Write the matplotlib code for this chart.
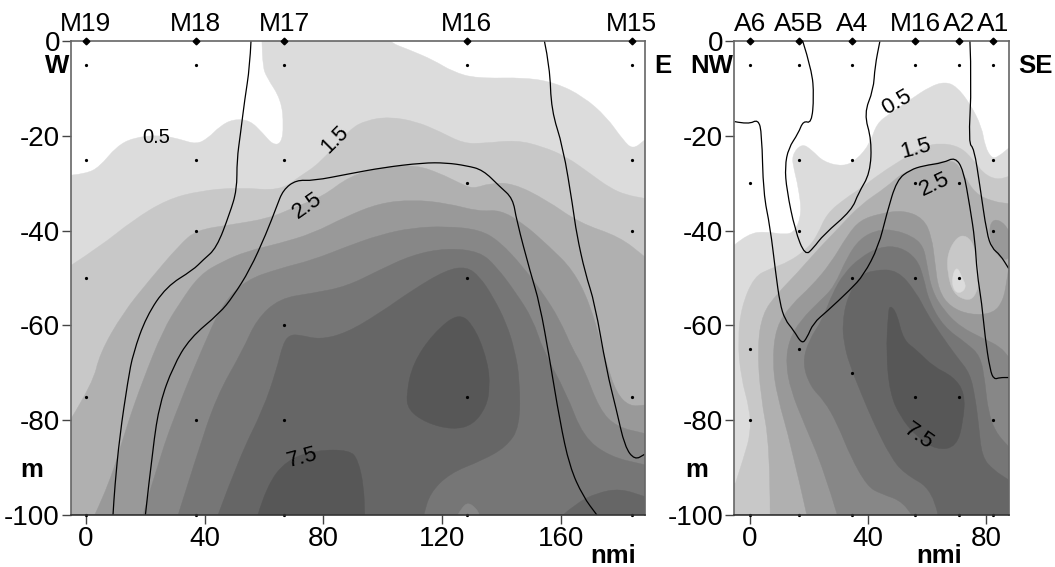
import matplotlib
matplotlib.use('Agg')
import matplotlib.pyplot as plt
import numpy as np
from matplotlib.patches import PathPatch
from matplotlib.path import Path

plt.rcParams['font.family'] = ['Liberation Sans', 'DejaVu Sans']
plt.rcParams['axes.unicode_minus'] = False

# shade of each contour level
c05, c15, c25, c35 = '#dcdcdc', '#c8c8c8', '#b0b0b0', '#999999'
c45, c55, c65, c75 = '#878787', '#767676', '#666666', '#575757'

# left section, boundaries read at 3 px/nmi (left_fix below brings them to the axis)
left_fix = 1.01
L05 = [(-4.8, -28.3), (0.2, -28), (4.7, -26.5), (10.2, -22.3), (15.8, -20.4), (24.7, -19.8), (31.3, -20.7),
       (36.9, -21.8), (40.8, -20.5), (44.7, -18), (49.1, -16.5), (54.7, -16.7), (59.1, -19.5), (62.4, -21.9),
       (65.2, -21.6), (66, -18), (65.2, -12.4), (60.2, -7.5), (59.1, -5.4), (58.7, 0), (58.7, 4), (100.2, 4),
       (100.2, 0), (108, -1.9), (115.8, -4), (122.4, -6.5), (130.2, -7.9), (146.9, -7.7), (156.9, -8.9),
       (165.8, -11.7), (173.6, -16), (179.1, -20.9), (182.4, -22.9), (186.3, -20.9)]
L15 = [(-4.8, -47.3), (4.7, -43.4), (15.8, -37.8), (26.9, -33.5), (38, -31.6), (51.3, -30.9), (64.7, -31.6),
       (71.3, -28.6), (78, -25.8), (88, -18.6), (93.6, -16.7), (101.3, -16), (110.2, -17), (118, -19.1),
       (125.8, -21.6), (132.4, -21.6), (143.6, -20.9), (152.4, -22.3), (160.2, -24.4), (168, -27.9),
       (174.7, -31), (180.2, -32.5), (186.3, -33.2)]
L25 = [(-4.8, -79.6), (2.4, -72.2), (4.7, -65.9), (12.4, -57.4), (21.3, -50.4), (31.3, -43), (36.9, -39.9),
       (48, -38.8), (61.3, -37.4), (70.2, -34.9), (79, -32.8), (88, -28.5), (99.1, -26.5), (110.2, -26.2),
       (118, -27.9), (124.7, -30), (129.1, -31.2), (134.7, -30), (142.4, -30), (153.5, -33.5), (164.6, -38.4),
       (178, -41.3), (186.3, -45.5)]
L35 = [(3, -100), (8, -93.3), (13.6, -81.4), (19.1, -71.5), (25.8, -61), (31.3, -55.3), (38, -49.3),
       (45.7, -46.5), (53.5, -44.4), (64.6, -42.7), (75.7, -40.6), (86.9, -37), (98, -34.2), (109, -33.5),
       (120.2, -34.2), (131.3, -36), (138, -35.6), (145.7, -38.4), (154.6, -43.4), (162.4, -48.3), (168, -55.3),
       (172.4, -65.2), (173.6, -68), (176.9, -74.3), (181.3, -77.1), (186.3, -76.8)]
L45 = [(19.1, -100), (24.7, -87.7), (31.3, -76.4), (39.1, -64.5), (45.7, -55.3), (53.5, -50.4), (64.6, -48),
       (75.7, -46.2), (86.9, -43.4), (98, -40.9), (109, -39.4), (120.2, -39.1), (131.3, -39.8), (138, -42.3),
       (145.7, -47.6), (152.4, -53.2), (158, -58.8), (162.4, -65.2), (165.8, -68.7), (171.3, -77.8),
       (176.9, -81.4), (186.3, -82.8)]
L55 = [(30.8, -100), (36.9, -87.7), (43.6, -75), (52.4, -65.2), (56.9, -58.8), (64.6, -54.3), (75.7, -53.2),
       (86.9, -51.8), (98, -48.3), (109, -45.1), (120.2, -43.7), (131.3, -44.4), (136.9, -47.6), (143.5, -53.2),
       (149.1, -58.8), (152.4, -65.2), (160.2, -74.3), (165.8, -83.5), (174.7, -87.7), (186.3, -89.4)]
L65 = [(44.1, -100), (51.3, -87.7), (59.1, -77.8), (63.6, -69.4), (65.8, -63.8), (68, -62), (71.3, -62),
       (78, -63), (86.9, -61.6), (98, -57.4), (109, -52.5), (120.2, -48.3), (126.9, -47.6), (131.3, -49.7),
       (135.7, -53.9), (140.2, -59.5), (143, -65.2), (144.7, -71.5), (144.7, -81.4), (140.2, -85.6),
       (132.4, -88.4), (121.3, -91.2), (114.7, -95.4), (112.7, -100)]
L65_corner = [(159.1, -100), (163.6, -97.5), (170.2, -95.4), (178, -94.4), (186.3, -96.1)]
L45_bump = [(124, -100), (125.2, -98.6), (127.4, -97.3), (130.2, -98.6), (131.3, -100)]
L75_core = [(124.7, -57.1), (130.2, -61), (134.1, -68), (134.7, -72.9), (133.6, -77.1), (129.1, -81),
            (122.4, -82), (113.6, -80.6), (107.4, -77.8), (106.9, -74.3), (109.1, -68), (115.8, -61.7)]
L75_base = [(57.4, -100), (60.2, -94), (66.9, -88.4), (77, -86.3), (88, -86.3), (90.8, -88.4), (92.7, -94),
            (93, -100)]
left_line_a = [(55.1, 0), (54.7, -5.4), (53, -12.4), (51.6, -19.5), (50.4, -25.1), (50.4, -31.4), (48, -36.4),
               (43.6, -43.7), (39.1, -46.2), (35.8, -48.3), (26.9, -51.8), (20.2, -58.1), (15.8, -65.9),
               (14.1, -71.5), (11.3, -83.5), (9.7, -94), (9.1, -100)]
left_line_b = [(19.9, -100), (22.4, -85.6), (24.7, -76.4), (29.1, -68.7), (34.7, -62.7), (44.7, -57.4),
               (49.1, -53.9), (54.7, -48.3), (60.2, -40.6), (63.6, -35), (65.8, -31.4), (70.2, -29.3),
               (75.8, -29.5), (88, -28), (99.1, -26.7), (112.4, -25.7), (120.2, -25.7), (126.9, -26.3),
               (132.4, -27.2), (138, -30.7), (142.4, -33.2), (143.6, -37.8), (148.3, -49), (151.3, -55.3),
               (154.7, -67.3), (158, -80), (161.3, -89.8), (165.8, -96.1), (170.4, -100)]
left_line_c = [(152.9, 0), (154.7, -5.4), (155.2, -14.6), (159.1, -22.3), (162.4, -35), (163.6, -40.6),
               (166.5, -49), (169.7, -55.3), (173.6, -69.4), (176.9, -77.8), (179.7, -85.6), (183, -88.4),
               (186.3, -87.2)]

# right section boundaries
R05 = [(-5.1, -43), (-0.5, -40.6), (5.7, -40.2), (11.9, -40.9), (15.3, -40.2), (17.6, -36.4), (16.4, -30.7),
       (15, -27.2), (14.2, -24.1), (17.6, -21.6), (21, -23), (24.9, -25.5), (31.6, -26.5), (36.1, -25.1),
       (40.7, -21.6), (42.9, -17.4), (47.4, -15.3), (54.2, -12.4), (60.9, -9.6), (66, -8.6), (69.9, -9.6),
       (74.4, -13.2), (78.4, -18.1), (79.5, -22.3), (81.8, -24.8), (84, -24.4), (87.5, -22.6)]
R15 = [(-4.8, -93.3), (-1.9, -87.7), (0.3, -82.8), (0.1, -77.9), (-3, -70.8), (-4, -63.1), (-2.8, -56.1),
       (1.5, -49.7), (7.1, -48), (13.3, -46.6), (19.5, -43.8), (22.9, -41), (26, -36.4), (32.8, -33),
       (37.3, -31.2), (44, -28), (52, -24.8), (58.7, -22.3), (64.3, -21.5), (71.1, -22.3), (75.6, -25.1),
       (79, -28), (83.5, -29.3), (87.4, -28.6)]
R25 = [(6.9, -100), (6.9, -85.6), (3.7, -75), (2.6, -64.5), (4.3, -57.5), (9.3, -53.3), (16, -49), (23, -44),
       (30, -39.5), (37.3, -34.6), (46.3, -30.8), (52, -27.6), (59.8, -26.2), (68.8, -24.8), (72.2, -28),
       (76.1, -32.2), (82.3, -33.9), (87.4, -34.3)]
R35 = [(19.3, -100), (13.9, -84.9), (9.3, -75), (7.7, -68), (8.8, -60.3), (14.4, -55.4), (20.6, -51.9),
       (27.4, -46.9), (33, -41), (37.3, -37.8), (44, -36.4), (52, -35.7), (58.7, -37.4), (61.5, -41.3),
       (62.6, -46.9), (63.8, -52.6), (67.7, -56.1), (74.5, -57.8), (82.3, -57.5), (85.7, -54.7), (86.9, -50.4),
       (87.4, -48.3)]
R35_spot = [(80.7, -39.9), (82.3, -37.4), (86.3, -38.5), (89, -42), (87.4, -46.9), (82.3, -44.5)]
R45 = [(29.6, -100), (25.1, -90.5), (18.4, -80.7), (13.9, -73.7), (12.2, -68), (13.3, -63.1), (17.2, -58.9),
       (24, -54.7), (28.5, -51.9), (33, -45.5), (37.3, -41.7), (42.9, -39.9), (48.6, -39.8), (55.3, -41.3),
       (58.7, -43.4), (59.8, -46.9), (61.5, -52.6), (65.5, -56.8), (71.1, -60.3), (79, -62.8), (84.6, -64.5),
       (87.4, -66.6)]
R55 = [(54.7, -100), (52.1, -97.2), (44.3, -95.5), (39.8, -94), (34.1, -87.7), (29.6, -80.7), (25.1, -75.8),
       (20.6, -73), (17.8, -68), (20, -63.1), (24.5, -58.9), (27.9, -53.3), (31.9, -49), (37.3, -45.7),
       (44, -43.4), (50.8, -43.4), (56.4, -45.9), (58.7, -49.7), (60.4, -54.7), (65.5, -60.3), (73.3, -63.8),
       (78, -66.5), (79.5, -72), (80.5, -78), (83, -82.5), (87.5, -85.6)]
R65 = [(63.6, -100), (62, -94.7), (52.1, -91.2), (47.6, -87.7), (42, -80.7), (38.1, -75), (33.6, -68),
       (31.9, -63.8), (31.3, -59.6), (33, -54), (37.3, -49.5), (42, -48.3), (50, -48.3), (56.4, -53.2),
       (59.8, -57.4), (64.3, -61.7), (69.9, -66.6), (74.4, -70.1), (76.1, -75), (77.3, -80.6), (78.4, -87.7),
       (82.3, -90.5), (87.5, -92.6)]
R75 = [(47.4, -55.7), (49.7, -57.4), (51.9, -63.1), (56.4, -65.2), (62, -68.7), (68.8, -70.8), (72.7, -74.3),
       (72.2, -80), (69.9, -85.6), (63.2, -86.3), (56.4, -83.5), (50.8, -79.2), (47.4, -74.3), (46.1, -65.9),
       (46.8, -57.4)]
R15_hole = [(66.8, -44.8), (70, -41.3), (73.3, -41), (76.1, -43.4), (77.8, -50.4), (76.1, -54), (73.3, -54.8),
            (68.8, -53.3), (66.8, -49)]
R05_hole = [(68.3, -49.7), (70, -47.5), (71.6, -49.7), (73.3, -51.9), (71.1, -53.3), (68.8, -52.6)]
right_line_a = [(-5.1, -17), (-0.4, -17.6), (2.9, -16.5), (4.1, -19.5), (4.6, -32.1), (6.9, -39.2), (8.8, -49),
                (10.2, -55.3), (11.9, -58.8), (14.8, -61), (17.6, -63.9), (19.3, -62.7), (21.5, -59.5), (26, -57.1),
                (33.9, -52.5), (38.5, -49.4), (43.5, -43.4), (46.3, -36.4), (49.7, -29.3), (54.2, -27.2),
                (58.7, -26.3), (65.4, -25.7), (69.4, -24.5), (72.2, -27.2), (74.4, -35), (76.1, -42), (76.8, -49),
                (78.4, -55.3), (79.5, -62.4), (81.2, -69.4), (82.5, -71.4), (84.5, -71), (87.5, -71)]
right_line_b = [(17.9, 0), (21, -6.1), (21.7, -11.7), (20.9, -17.4), (18.1, -16.8), (16.4, -19.5), (13.1, -22.6),
                (11.9, -26.5), (12.5, -31.4), (15.3, -39.9), (18.7, -45.3), (21.5, -43.7), (24.9, -40.9),
                (34.5, -35.7), (36.7, -32.1), (40.7, -27.9), (41.2, -20.9), (38.6, -15.3), (41.8, -10.3),
                (42.3, -5.4), (44, 0)]
right_line_c = [(74.4, 0), (75, -8.9), (73.9, -21.6), (75.8, -22.6), (77.8, -30.7), (80.1, -40.6), (81.8, -43.7),
                (84.6, -45.1), (87.5, -48)]

# stations and the sample depths at each
left_names = ['M19', 'M18', 'M17', 'M16', 'M15']
left_pos = [0, 37.1, 66.8, 128.3, 183.8]
left_depths = [[-5, -25, -50, -75, -100], [-5, -25, -40, -80, -100], [-5, -25, -60, -80, -100],
               [-5, -30, -50, -75, -100], [-5, -25, -40, -75, -100]]
right_names = ['A6', 'A5B', 'A4', 'M16', 'A2', 'A1']
right_pos = [0, 16.6, 34.6, 56, 70.6, 82.3]
right_depths = [[-5, -30, -65, -80, -100], [-5, -25, -40, -65, -100], [-5, -25, -50, -70, -100],
                [-5, -30, -50, -75, -100], [-5, -30, -50, -75, -100], [-5, -25, -40, -80, -100]]

y_ticks = [0, -20, -40, -60, -80, -100]
left_xticks = [0, 40, 80, 120, 160]
right_xticks = [0, 40, 80]

W, H = 1055, 567


def smooth(pts, fix=1.0, closed=False):
    """quadratic curve with the read points as control points"""
    p = np.array(pts, dtype=float) * [fix, 1]
    if closed:
        p = np.vstack([p, p[:2]])
        start = (p[0] + p[1]) / 2
        verts, codes = [start], [Path.MOVETO]
    else:
        verts, codes = [p[0]], [Path.MOVETO]
    for i in range(1, len(p) - 1):
        verts += [p[i], (p[i] + p[i + 1]) / 2]
        codes += [Path.CURVE3, Path.CURVE3]
    if not closed:
        verts.append(p[-1])
        codes.append(Path.LINETO)
    return verts, codes


def fill_below(ax, pts, color, fix=1.0):
    # region between the curve and the bottom of the section
    verts, codes = smooth(pts, fix)
    x0, x1 = -12, 200
    tail = [(x1, verts[-1][1]), (x1, -110), (x0, -110), (x0, verts[0][1]), verts[0]]
    verts = list(verts) + tail
    codes = codes + [Path.LINETO] * len(tail)
    ax.add_patch(PathPatch(Path(verts, codes), fc=color, ec=color, lw=0.3))


def fill_blob(ax, pts, color, fix=1.0):
    verts, codes = smooth(pts, fix, closed=True)
    ax.add_patch(PathPatch(Path(verts, codes), fc=color, ec=color, lw=0.3))


def draw_line(ax, pts, fix=1.0):
    verts, codes = smooth(pts, fix)
    ax.add_patch(PathPatch(Path(verts, codes), fc='none', ec='black', lw=0.9, zorder=4))


def dress(ax, names, pos, depths, xticks, xlim):
    ax.set_xlim(*xlim)
    ax.set_ylim(-100, 0)
    ax.set_xticks(xticks)
    ax.set_yticks(y_ticks)
    ax.tick_params(axis='both', labelsize=20, length=6.5, width=1, color='#444444', pad=1.5)
    for s in ax.spines.values():
        s.set_color('#666666')
        s.set_linewidth(1.2)
        s.set_zorder(6)
    ax.spines['bottom'].set_color('#333333')
    for name, x, ds in zip(names, pos, depths):
        ax.plot([x] * len(ds), ds, ls='none', marker='o', ms=1.3, color='black', zorder=5, clip_on=False)
        ax.plot([x], [0], ls='none', marker='D', ms=3.4, color='black', zorder=7, clip_on=False)
        ax.text(x, 3.5, name, fontsize=19, ha='center', va='center')


fig = plt.figure(figsize=(W / 100, H / 100), dpi=100, facecolor='white')
ax1 = fig.add_axes([71 / W, (H - 515) / H, 574 / W, 474 / H])
ax2 = fig.add_axes([734.3 / W, (H - 515) / H, 274.4 / W, 474 / H])

for pts, col in [(L05, c05), (L15, c15), (L25, c25), (L35, c35), (L45, c45), (L55, c55), (L65, c65)]:
    fill_below(ax1, pts, col, left_fix)
fill_below(ax1, L65_corner, c65, left_fix)
fill_below(ax1, L75_base, c75, left_fix)
fill_below(ax1, L45_bump, c45, left_fix)
fill_blob(ax1, L75_core, c75, left_fix)
for pts in [left_line_a, left_line_b, left_line_c]:
    draw_line(ax1, pts, left_fix)

for pts, col in [(R05, c05), (R15, c15), (R25, c25), (R35, c35), (R45, c45), (R55, c55), (R65, c65)]:
    fill_below(ax2, pts, col)
fill_blob(ax2, R35_spot, c35)
fill_blob(ax2, R15_hole, c15)
fill_blob(ax2, R05_hole, c05)
fill_blob(ax2, R75, c75)
for pts in [right_line_a, right_line_b, right_line_c]:
    draw_line(ax2, pts)

dress(ax1, left_names, left_pos, left_depths, left_xticks, (-4.95, 188.3))
dress(ax2, right_names, right_pos, right_depths, right_xticks, (-5.2, 87.5))

# contour labels
for ax, x, y, s, rot, size in [(ax1, 23.7, -20.3, '0.5', 0, 14.5), (ax1, 84, -20.9, '1.5', 45, 15.5),
                               (ax1, 74.5, -34.8, '2.5', 35, 16), (ax1, 72.8, -88, '7.5', 15, 16),
                               (ax2, 49.8, -12.9, '0.5', 30, 16), (ax2, 56.2, -22.8, '1.5', 15, 16),
                               (ax2, 62.6, -30.2, '2.5', 25, 16), (ax2, 57.2, -83.5, '7.5', -35, 16)]:
    ax.text(x, y, s, fontsize=size, rotation=rot, ha='center', va='center', zorder=8)

# bold side and unit labels
for px, py, s in [(57, 66, 'W'), (663, 66, 'E'), (712, 66, 'NW'), (1035, 66, 'SE'),
                  (32, 470, 'm'), (697, 470, 'm'), (613, 556, 'nmi'), (939, 556, 'nmi')]:
    fig.text(px / W, 1 - py / H, s, fontsize=18.5, fontweight='bold', ha='center', va='center')

fig.savefig('out.png', dpi=100)
